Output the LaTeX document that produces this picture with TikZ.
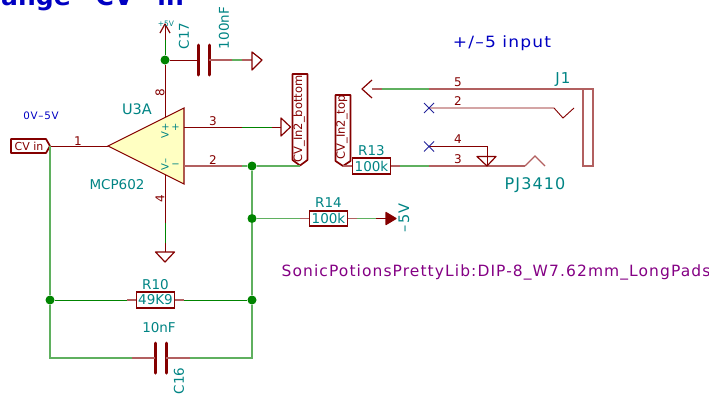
\documentclass[tikz,border=0pt]{standalone}
\usepackage{fontspec}
\setmainfont{DejaVu Sans}
\newfontfamily\widefont[LetterSpace=7]{DejaVu Sans}
\usepackage{tikz}
\usetikzlibrary{arrows.meta, positioning, shapes.geometric}
\definecolor{pincol}{HTML}{840000}
\definecolor{netcol}{HTML}{008400}
\definecolor{netpale}{HTML}{5FB05F}
\definecolor{pinpale}{HTML}{B26060}
\definecolor{refcol}{HTML}{008484}
\definecolor{bodyfill}{HTML}{FFFFC2}
\definecolor{notecol}{HTML}{0000C2}
\definecolor{libcol}{HTML}{840084}
\definecolor{nccol}{HTML}{24249A}

\begin{document}
\begin{tikzpicture}[
    x=1pt, y=-1pt,
    pin/.style={draw=pincol, line width=0.9pt},
    pinlight/.style={draw=pinpale, line width=1.2pt},
    net/.style={draw=netcol, line width=0.9pt},
    netlight/.style={draw=netpale, line width=1.2pt},
    dot/.style={circle, fill=netcol, inner sep=0pt, minimum size=9pt},
    resbox/.style={rectangle, draw=pincol, line width=1.7pt, minimum width=38pt, minimum height=15.5pt, inner sep=0pt, text=refcol, font=\fontsize{13.5}{14}\selectfont},
    plate/.style={draw=pincol, line width=3pt, line cap=round},
    ref/.style={text=refcol, font=\fontsize{13.5}{14}\selectfont, inner sep=0pt},
    unitpin/.style={text=refcol, font=\fontsize{10}{11}\selectfont, inner sep=0pt},
    pinnum/.style={text=pincol, font=\fontsize{12}{13}\selectfont, inner sep=0pt},
    tag/.style={draw=pincol, line width=1.7pt, line join=round},
    taglabel/.style={text=pincol, font=\fontsize{11.5}{12}\selectfont, inner sep=0pt},
    power/.style={draw=pincol, line width=1.2pt, line join=round},
    noconn/.style={draw=nccol, line width=1pt}
]
\useasboundingbox (0,0) rectangle (709,397);

% sheet title, cut by the page edge
\node (title) [text=notecol, inner sep=0pt, anchor=base west, font=\fontsize{25}{26}\selectfont\bfseries] at (1,5.5) {ange\hspace{25pt}CV\hspace{24pt}in};

% points
\coordinate (top) at (165,24);
\coordinate (vplus) at (165,117);
\coordinate (vminus) at (165,175);
\coordinate (gndu) at (165,252);
\coordinate (ampout) at (108,146);
\coordinate (ampa) at (184,127);
\coordinate (ampb) at (184,166);
\coordinate (cgnd) at (252,60);
\coordinate (lowl) at (50,358);
\coordinate (lowr) at (252,358);
\coordinate (arrowin) at (386,218.5);
\coordinate (gndb) at (281,127);
\coordinate (tip5) at (372,89);
\coordinate (corner5) at (583,89);
\coordinate (nc2) at (429,108);
\coordinate (end2) at (554,108);
\coordinate (nc4) at (429,146.5);
\coordinate (bend4) at (487,146.5);
\coordinate (gnd4) at (487,166);
\coordinate (end3) at (525,166);
\coordinate (tagin) at (50,146);
\coordinate (tagbot) at (300,166);
\coordinate (tagtop) at (343,166);
\coordinate (c17a) at (198,60);
\coordinate (c17b) at (209,60);
\coordinate (c16a) at (155,358);
\coordinate (c16b) at (166,358);

% junctions
\node (j1) [dot] at (165,60) {};
\node (j2) [dot] at (252,166) {};
\node (j3) [dot] at (252,218.5) {};
\node (j4) [dot] at (252,300) {};
\node (j5) [dot] at (50,300) {};

% parts
\node (r10) [resbox] at (155.5,300) {49K9};
\node (r14) [resbox] at (328.5,218.5) {100k};
\node (r13) [resbox] at (371.5,166) {100k};
\draw [fill=bodyfill, draw=pincol, line width=1.1pt, line join=miter] (108,146) -- (184,108) -- (184,184) -- cycle;

\draw [plate] (198,45) -- (198,75);
\draw [plate] (209,45) -- (209,75);
\draw [plate] (155,343) -- (155,373);
\draw [plate] (166,343) -- (166,373);

% labels on wires
\draw [tag] (11,139) -- (46,139) -- (50,146) -- (46,153) -- (11,153) -- cycle;
\node (cvin) [taglabel, font=\fontsize{11}{12}\selectfont] at (29,146.5) {CV in};
\draw [tag] (292.5,74) -- (307.5,74) -- (307.5,160) -- (300,165.5) -- (292.5,160) -- cycle;
\node (tagb) [taglabel, rotate=90] at (299,119) {CV\_In2\_bottom};
\draw [tag] (335.5,95) -- (350.5,95) -- (350.5,161) -- (343,166) -- (335.5,161) -- cycle;
\node (tagt) [taglabel, rotate=90] at (342,127.5) {CV\_In2\_top};

% wires
\draw [net] (top) -- (j1);
\draw [pin] (top) -- ++(0,16);
\draw [pin] (j1) -- (vplus);
\draw [pin] (j1) -- (c17a);
\draw [netlight] (c17b) -- (cgnd);
\draw [pinlight] (c17b) -- ++(23,0);
\draw [pinlight] (cgnd) -- ++(-10,0);
\draw [net] (vminus) -- (gndu);
\draw [pin] (vminus) -- ++(0,48);
\draw [pin] (gndu) -- ++(0,-9);
\draw [pin] (tagin) -- (ampout);
\draw [net] (ampa) -- (gndb);
\draw [pin] (ampa) -- ++(58,0);
\draw [pin] (gndb) -- ++(-9,0);
\draw [netlight] (ampb) -- (j2) -- (tagbot);
\draw [pinlight] (ampb) -- ++(58,0);
\draw [netlight] (tagin) -- (j5) -- (lowl) -- (c16a);
\draw [pinlight] (c16a) -- ++(-23,0);
\draw [netlight] (c16b) -- (lowr) -- (j4) -- (j3) -- (j2);
\draw [pinlight] (c16b) -- ++(24,0);
\draw [net] (j5) -- (r10);
\draw [pinlight] (r10.west) -- ++(-9,0);
\draw [net] (r10) -- (j4);
\draw [pinlight] (r10.east) -- ++(9,0);
\draw [netlight] (j3) -- (r14);
\draw [pinlight] (r14.west) -- ++(-9,0);
\draw [netlight] (r14) -- (arrowin);
\draw [pinlight] (r14.east) -- ++(9,0);
\draw [pin] (arrowin) -- ++(-10,0);
\draw [pinlight] (tagtop) -- (r13);
\draw [netlight] (r13) -- (end3);
\draw [pinlight] (r13.east) -- ++(9,0);
\draw [pinlight] (end3) -- ++(-96,0);

% power symbols
\draw [power] (160,33) -- (top) -- (170,33);
\draw [power] (252,52) -- (262,60) -- (252,70) -- cycle;
\draw [power] (gndb) ++(0,-9) -- ++(0,18) -- ++(9.5,-9) -- cycle;
\draw [power] (gndu) ++(-9.5,0) -- ++(19,0) -- ++(-9.5,10) -- cycle;
\draw [power, fill=pincol] (arrowin) ++(0,-6) -- ++(0,12) -- ++(10,-6) -- cycle;

% jack
\draw [netlight] (corner5) -- (tip5);
\draw [pinlight] (corner5) -- ++(-154,0);
\draw [pinlight] (tip5) -- ++(10,0);
\draw [power] (372,80) -- (362,89) -- (372,98);
\draw [pinlight] (583,89) rectangle (593,166);
\draw [pin] (nc2) -- (end2) -- (563,118) -- (574,108);
\draw [pin] (nc4) -- (bend4) -- (gnd4);
\draw [power] (477,156.5) -- (496,156.5) -- (487,166) -- cycle;
\draw [pinlight] (end3) -- (535,156) -- (545,166);
\draw [noconn] (424,103) -- (434,113) (424,113) -- (434,103);
\draw [noconn] (424,141.5) -- (434,151.5) (424,151.5) -- (434,141.5);

% text
\node (plus5) [ref, font=\fontsize{7.5}{8}\selectfont] at (166,23.5) {+5V};
\node (c17) [ref, rotate=90] at (184,36) {C17};
\node (c17v) [ref, rotate=90] at (224,28) {100nF};
\node (u3a) [ref, font=\fontsize{14.5}{15}\selectfont] at (137,109) {U3A};
\node (mcp) [ref] at (117,185) {MCP602};
\node (vp) [unitpin, rotate=90] at (165,131) {V+};
\node (vm) [unitpin, rotate=90] at (165,164.5) {V–};
\node (plusin) [unitpin] at (175.5,127.5) {+};
\node (minusin) [unitpin] at (175.5,165.5) {−};
\node (p1) [pinnum] at (78,141) {1};
\node (p3) [pinnum] at (213,121) {3};
\node (p2) [pinnum] at (213,160) {2};
\node (p8) [pinnum, rotate=90] at (160,93) {8};
\node (p4) [pinnum, rotate=90] at (160,199) {4};
\node (range) [text=notecol, inner sep=0pt, font=\fontsize{10.3}{11}\widefont] at (41,116) {0V–5V};
\node (jacknote) [text=notecol, inner sep=0pt, font=\fontsize{15.5}{16}\widefont] at (502,43) {\scalebox{1.1}[1]{+/–5 input}};
\node (r10n) [ref, above=2pt of r10] {R10};
\node (r14n) [ref, above=2pt of r14] {R14};
\node (r13n) [ref, above=2pt of r13] {R13};
\node (c16v) [ref] at (159,328) {10nF};
\node (c16) [ref, rotate=90] at (179,381) {C16};
\node (m5v) [ref, rotate=90, font=\fontsize{14.5}{15}\widefont] at (404,218) {–5V};
\node (libname) [text=libcol, inner sep=0pt, font=\fontsize{15.5}{16}\widefont] at (496,272) {SonicPotionsPrettyLib:DIP-8\_W7.62mm\_LongPads};
\node (p5) [pinnum] at (458,82) {5};
\node (p2j) [pinnum] at (458,101) {2};
\node (p4j) [pinnum] at (458,139) {4};
\node (p3j) [pinnum] at (458,159) {3};
\node (j1n) [ref, font=\fontsize{15}{16}\widefont] at (563,80) {J1};
\node (pj) [ref, font=\fontsize{16}{17}\widefont] at (535,185) {PJ3410};

\end{tikzpicture}
\end{document}
